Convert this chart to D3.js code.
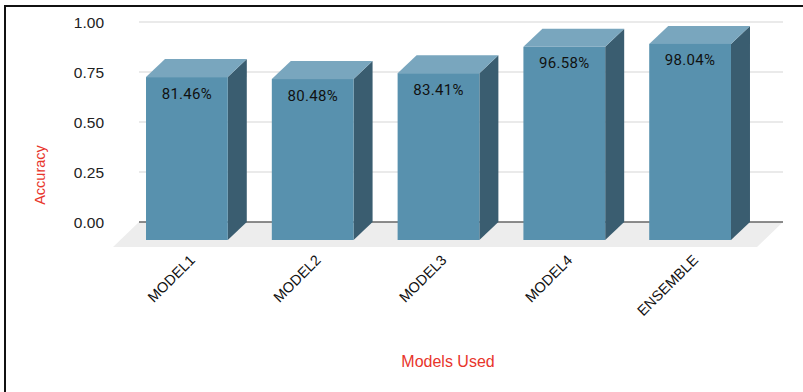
<!DOCTYPE html>
<html>
<head>
<meta charset="utf-8">
<script src="https://cdn.jsdelivr.net/npm/d3@7"></script>
<style>
  html, body { margin: 0; padding: 0; background: #fff; }
  svg { display: block; }
</style>
</head>
<body>
<svg id="chart" width="803" height="392"></svg>
<script>
// Accuracy of each model
const categories = ["MODEL1", "MODEL2", "MODEL3", "MODEL4", "ENSEMBLE"];
const accuracy = [0.8146, 0.8048, 0.8341, 0.9658, 0.9804];
const valueLabels = ["81.46%", "80.48%", "83.41%", "96.58%", "98.04%"];
const yTicks = [0, 0.25, 0.5, 0.75, 1];

const svg = d3.select("#chart");
const W = 803, H = 392;
const SANS = "'Liberation Sans', Arial, sans-serif";

// Depth of the 3D bars
const depthX = 19, depthY = -18;

const x = d3.scaleBand().domain(categories).range([124, 753])
  .paddingInner(0.35).paddingOuter(0.175);
// back wall scale (gridlines) and front face scale
const yBack = d3.scaleLinear().domain([0, 1]).range([222, 22]);
const yFront = d3.scaleLinear().domain([0, 1]).range([240, 40]);

// outer frame
svg.append("rect").attr("x", 5).attr("y", 6).attr("width", W + 10).attr("height", H + 10)
  .attr("fill", "none").attr("stroke", "#111").attr("stroke-width", 2);

// floor
const fl = 139, fr = 783;
svg.append("path")
  .attr("d", `M${fl},${yBack(0)}L${fr},${yBack(0)}L${fr - 26},${yBack(0) + 25}L${fl - 26},${yBack(0) + 25}Z`)
  .attr("fill", "#ededed");

// gridlines
svg.append("g").selectAll("line").data(yTicks).join("line")
  .attr("x1", fl).attr("x2", fr)
  .attr("y1", d => yBack(d)).attr("y2", d => yBack(d))
  .attr("stroke", d => d === 0 ? "#666" : "#d6d6d6")
  .attr("stroke-width", d => d === 0 ? 1.5 : 1.2);

// y axis tick labels
const yAxis = d3.axisLeft(yBack).tickValues(yTicks).tickFormat(d3.format(".2f")).tickSize(0).tickPadding(0);
const ga = svg.append("g").attr("transform", "translate(104,0)").call(yAxis)
  .attr("font-family", SANS).attr("font-size", 15.5);
ga.select(".domain").remove();
ga.selectAll("text").attr("fill", "#222").attr("dy", "0.35em");

// bars
const bars = svg.append("g").selectAll("g").data(categories).join("g");
bars.each(function (c, i) {
  const g = d3.select(this);
  const x0 = x(c), x1 = x(c) + x.bandwidth();
  const yt = yFront(accuracy[i]), yb = yFront(0);
  // side face
  g.append("path")
    .attr("d", `M${x1},${yt}L${x1 + depthX},${yt + depthY}L${x1 + depthX},${yb + depthY}L${x1},${yb}Z`)
    .attr("fill", "#3a5d70");
  // top face
  g.append("path")
    .attr("d", `M${x0},${yt}L${x0 + depthX},${yt + depthY}L${x1 + depthX},${yt + depthY}L${x1},${yt}Z`)
    .attr("fill", "#79a6be");
  // front face
  g.append("rect").attr("x", x0).attr("y", yt).attr("width", x.bandwidth()).attr("height", yb - yt)
    .attr("fill", "#5891ae");
  // value label
  g.append("text").attr("x", (x0 + x1) / 2).attr("y", yt + 21.5)
    .attr("text-anchor", "middle").attr("font-family", "Roboto, 'Liberation Sans', sans-serif")
    .attr("font-size", 15).attr("letter-spacing", 0.3).attr("fill", "#111")
    .text(valueLabels[i]);
});

// category labels, rotated
svg.append("g").selectAll("text").data(categories).join("text")
  .attr("transform", d => `translate(${x(d) + x.bandwidth() / 2 + 9},${261}) rotate(-45)`)
  .attr("text-anchor", "end")
  .attr("font-family", SANS).attr("font-size", 14.5)
  .attr("fill", "#111")
  .text(d => d);

// axis titles
svg.append("text").attr("transform", "translate(45,175) rotate(-90)")
  .attr("text-anchor", "middle").attr("font-family", SANS)
  .attr("font-size", 14.5).attr("fill", "#e8352b").text("Accuracy");
svg.append("text").attr("x", 448).attr("y", 367)
  .attr("text-anchor", "middle").attr("font-family", SANS)
  .attr("font-size", 16).attr("fill", "#e8352b").text("Models Used");
</script>
</body>
</html>
